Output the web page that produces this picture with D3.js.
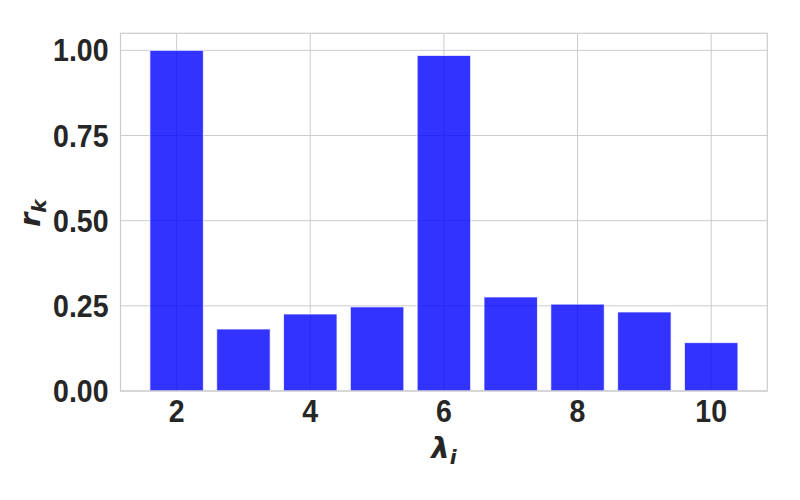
<!DOCTYPE html>
<html><head><meta charset="utf-8">
<script src="https://cdn.jsdelivr.net/npm/d3@7"></script>
<style>body{margin:0;background:#fff}</style>
</head><body>
<svg id="chart" width="800" height="500"></svg>
<script>
const categories = [2, 3, 4, 5, 6, 7, 8, 9, 10];
const values = [1.0, 0.182, 0.226, 0.247, 0.985, 0.276, 0.255, 0.232, 0.142];
const xTicks = [2, 4, 6, 8, 10];
const yTicks = [0, 0.25, 0.5, 0.75, 1.0];

const svg = d3.select("#chart");
const L = 120.5, R = 767.3, T = 33.3, B = 391;
const barW = 0.8;
const x = d3.scaleLinear().domain([1.16, 10.84]).range([L, R]);
const y = d3.scaleLinear().domain([0, 1.05]).range([B, T]);
const font = "'Liberation Sans', Arial, sans-serif";
const mfont = "'DejaVu Sans', sans-serif";
const grid = "#cccccc";

// grid
svg.append("g").selectAll("line.h").data(yTicks).join("line")
  .attr("x1", L).attr("x2", R).attr("y1", d => y(d)).attr("y2", d => y(d))
  .attr("stroke", grid).attr("stroke-width", 1);
svg.append("g").selectAll("line.v").data(xTicks).join("line")
  .attr("y1", T).attr("y2", B).attr("x1", d => x(d)).attr("x2", d => x(d))
  .attr("stroke", grid).attr("stroke-width", 1);

// bars
svg.append("g").selectAll("rect").data(categories).join("rect")
  .attr("x", d => x(d - barW / 2))
  .attr("width", d => x(d + barW / 2) - x(d - barW / 2))
  .attr("y", (d, i) => y(values[i]))
  .attr("height", (d, i) => y(0) - y(values[i]))
  .attr("fill", "rgb(0,0,255)").attr("fill-opacity", 0.8)
  .attr("stroke", "#ffffff").attr("stroke-opacity", 0.75).attr("stroke-width", 1);

// spines
svg.append("rect").attr("x", L).attr("y", T).attr("width", R - L).attr("height", B - T)
  .attr("fill", "none").attr("stroke", grid).attr("stroke-width", 1.2);

// tick labels
const sx = 0.92;
svg.append("g").selectAll("text").data(yTicks).join("text")
  .attr("transform", d => `translate(${L - 12},${y(d) + 11}) scale(${sx},1)`)
  .attr("text-anchor", "end")
  .attr("font-family", font).attr("font-weight", "bold").attr("font-size", 31)
  .attr("fill", "#262626")
  .text(d => d.toFixed(2));
svg.append("g").selectAll("text").data(xTicks).join("text")
  .attr("transform", d => `translate(${x(d)},422) scale(${sx},1)`)
  .attr("text-anchor", "middle")
  .attr("font-family", font).attr("font-weight", "bold").attr("font-size", 31)
  .attr("fill", "#262626")
  .text(d => d);

// axis labels
const xl = svg.append("text")
  .attr("x", (L + R) / 2).attr("y", 458)
  .attr("text-anchor", "middle")
  .attr("font-family", mfont).attr("font-weight", "bold").attr("font-style", "italic")
  .attr("font-size", 29).attr("fill", "#262626");
xl.append("tspan").text("λ");
xl.append("tspan").attr("font-size", 20).attr("dy", 6).text("i");

const yl = svg.append("text")
  .attr("transform", `translate(40,${(T + B) / 2 + 1}) rotate(-90)`)
  .attr("text-anchor", "middle")
  .attr("font-family", mfont).attr("font-weight", "bold").attr("font-style", "italic")
  .attr("font-size", 29).attr("fill", "#262626");
yl.append("tspan").text("r");
yl.append("tspan").attr("font-size", 20).attr("dy", 6).text("k");
</script>
</body></html>
